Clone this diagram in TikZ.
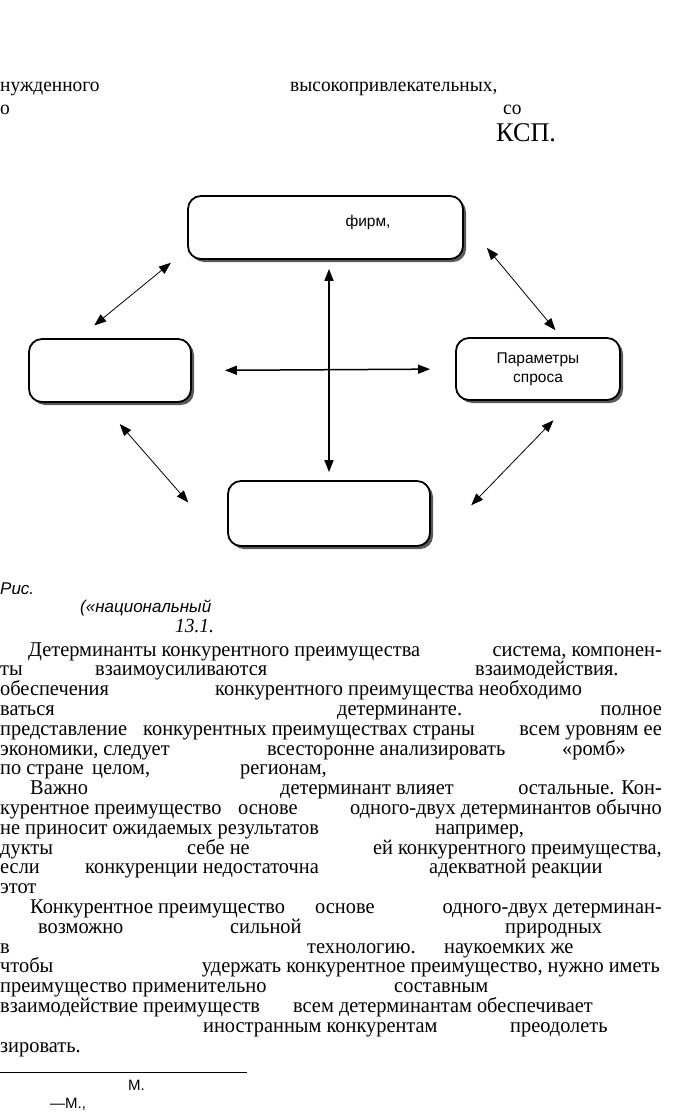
\documentclass[tikz,border=0pt]{standalone}
\usepackage{fontspec}
\setmainfont{Liberation Serif}
\newfontfamily\bodyfont[FakeStretch=0.97]{Liberation Serif}
\newfontfamily\boxfont{Liberation Sans}
\usetikzlibrary{arrows.meta,shadows}

\tikzset{
  blk/.style={draw, line width=1.8pt, rounded corners=13pt, fill=white,
    drop shadow={shadow xshift=3pt, shadow yshift=-3pt, fill=black!65, opacity=1},
    inner sep=0pt, align=center, font=\boxfont\fontsize{15.5}{19}\selectfont},
  lnk/.style={{Triangle[length=12pt,width=9pt]}-{Triangle[length=12pt,width=9pt]}, line width=0.8pt},
  axe/.style={lnk, line width=1.5pt},
  txt/.style={inner sep=0pt, font=\bodyfont\fontsize{21}{20}\selectfont},
  toptxt/.style={anchor=base west, inner sep=0pt, font=\bodyfont\fontsize{20}{20}\selectfont},
  captxt/.style={anchor=base west, inner sep=0pt, font=\boxfont\itshape\fontsize{17}{19}\selectfont},
  foot/.style={anchor=base west, inner sep=0pt, font=\boxfont\fontsize{15}{17}\selectfont},
}

\begin{document}
\begin{tikzpicture}[x=1pt,y=-1pt]
  \useasboundingbox (0,0) rectangle (694,1118);

  % top of page
  \node[toptxt] (t1) at (0,92) {нужденного};
  \node[toptxt] (t2) at (290,92) {высокопривлекательных,};
  \node[toptxt] (t3) at (0,115) {о};
  \node[toptxt] (t4) at (503,115) {со};
  \node[toptxt, font=\bodyfont\fontsize{27}{27}\selectfont] (t5) at (496,142) {КСП.};

  % diamond
  \node[blk, minimum width=275pt, minimum height=63pt] (firms) at (325.5,227.5) {};
  \node[blk, minimum width=162pt, minimum height=63pt] (factors) at (110,370.5) {};
  \node[blk, minimum width=164pt, minimum height=62pt] (demand) at (538,369) {Параметры\\спроса};
  \node[font=\boxfont\fontsize{15.5}{19}\selectfont, inner sep=0pt] (firmlbl) at (368,222) {фирм,};
  \node[blk, minimum width=202pt, minimum height=65pt] (related) at (329,513.5) {};

  \draw[axe, shorten <=9pt, shorten >=8pt] (related.north |- firms.south) -- (related.north);
  \draw[axe, shorten <=33pt, shorten >=25pt] (factors.east) -- (demand.west);
  \draw[lnk, shorten <=21pt, shorten >=20pt] (firms.189) -- (factors.134);
  \draw[lnk, shorten <=36pt, shorten >=9pt] (firms.3) -- (demand.54);
  \draw[lnk, shorten <=28pt, shorten >=59pt] (factors.255) -- (related.south west);
  \draw[lnk, shorten <=27pt, shorten >=58pt] (demand.317) -- (related.south east);

  % caption
  \node[captxt] (c1) at (0,594) {Рис.};
  \node[captxt] (c2) at (80,612) {(«национальный};
  \node[toptxt, font=\bodyfont\itshape\fontsize{20}{20}\selectfont] (c3) at (175,632) {13.1.};

  % text below, w = left edge, e = right edge
  \foreach \l/\x/\a/\t [count=\n] in {
    1/28/west/{Детерминанты конкурентного преимущества}, 1/662/east/{система, компонен-},
    2/0/west/{ты}, 2/95/west/{взаимоусиливаются}, 2/475/west/{взаимодействия.},
    3/0/west/{обеспечения}, 3/215/west/{конкурентного преимущества необходимо},
    4/0/west/{ваться}, 4/337/west/{детерминанте.}, 4/662/east/{полное},
    5/0/west/{представление}, 5/143/west/{конкурентных преимуществах страны}, 5/662/east/{всем уровням ее},
    6/0/west/{экономики, следует}, 6/267/west/{всесторонне анализировать}, 6/562/west/{«ромб»},
    7/0/west/{по стране}, 7/92/west/{целом,}, 7/240/west/{регионам,},
    8/30/west/{Важно}, 8/280/west/{детерминант влияет}, 8/662/east/{остальные. Кон-},
    9/0/west/{курентное преимущество}, 9/238/west/{основе}, 9/662/east/{одного-двух детерминантов обычно},
    10/0/west/{не приносит ожидаемых результатов}, 10/435/west/{например,},
    11/0/west/{дукты}, 11/187/west/{себе не}, 11/662/east/{ей конкурентного преимущества,},
    12/0/west/{если}, 12/85/west/{конкуренции недостаточна}, 12/429/west/{адекватной реакции},
    13/0/west/{этот},
    14/30/west/{Конкурентное преимущество}, 14/315/west/{основе}, 14/662/east/{одного-двух детерминан-},
    15/38/west/{возможно}, 15/230/west/{сильной}, 15/505/west/{природных},
    16/0/west/{в}, 16/307/west/{технологию.}, 16/444/west/{наукоемких же},
    17/0/west/{чтобы}, 17/660/east/{удержать конкурентное преимущество, нужно иметь},
    18/0/west/{преимущество применительно}, 18/394/west/{составным},
    19/0/west/{взаимодействие преимуществ}, 19/293/west/{всем детерминантам обеспечивает},
    20/203/west/{иностранным конкурентам}, 20/510/west/{преодолеть},
    21/0/west/{зировать.}}
    \node[txt, anchor=base \a] (w\n) at (\x,{656+(\l-1)*19.8}) {\t};

  % footnote
  \draw[line width=0.8pt] (0,1072) -- (247,1072);
  \node[foot] (fn1) at (128,1090) {М.};
  \node[foot] (fn2) at (50,1108) {—М.,};
\end{tikzpicture}
\end{document}
